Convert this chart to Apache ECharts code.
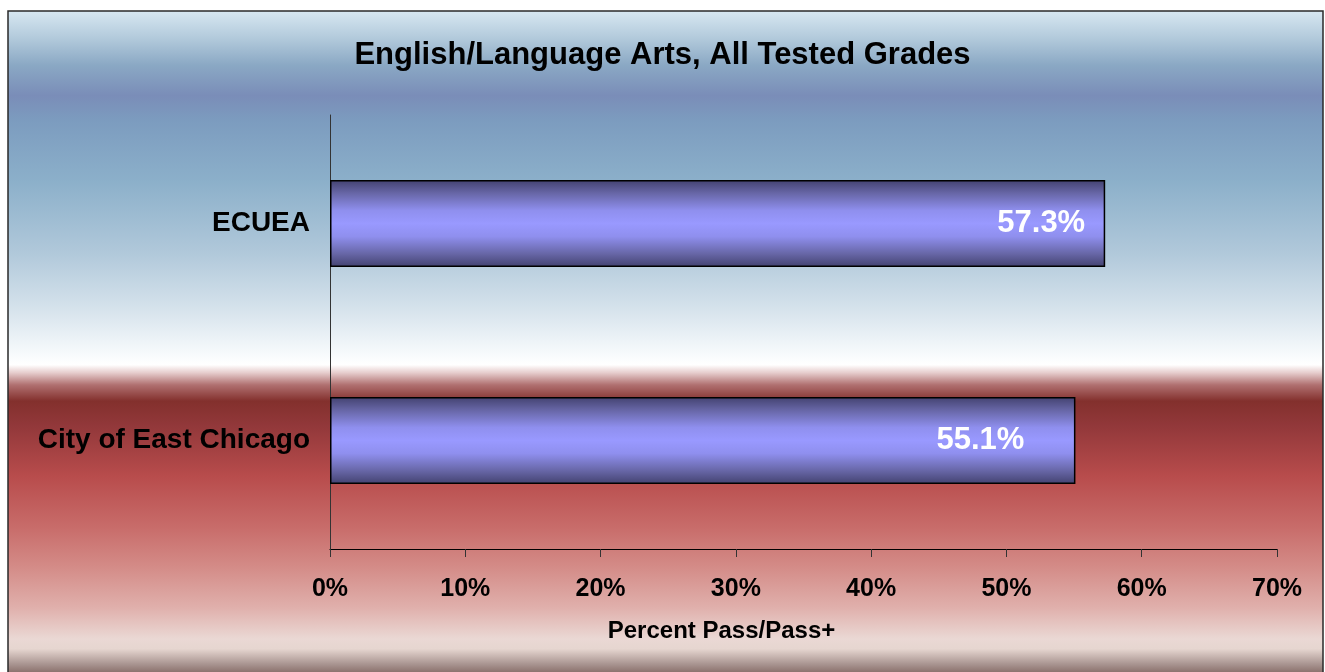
<!DOCTYPE html>
<html>
<head>
<meta charset="utf-8">
<script src="https://cdn.jsdelivr.net/npm/echarts@6/dist/echarts.min.js"></script>
<style>
  html, body { margin: 0; padding: 0; background: #fff; }
  #chart { width: 1325px; height: 672px; }
</style>
</head>
<body>
<div id="chart"></div>
<script>
  // data (first category is drawn at the bottom)
  var categories = ['City of East Chicago', 'ECUEA'];
  var passRates = [55.1, 57.3];
  var tickValues = [0, 10, 20, 30, 40, 50, 60, 70];

  // label inset from bar end, per bar (style only)
  var labelInset = [51, 20];

  var font = '"Liberation Sans", Arial, sans-serif';
  var myChart = echarts.init(document.getElementById('chart'));

  var barFill = new echarts.graphic.LinearGradient(0, 0, 0, 1, [
    {offset: 0, color: '#434270'},
    {offset: 0.15, color: '#6766a6'},
    {offset: 0.35, color: '#8f8fee'},
    {offset: 0.5, color: '#9999ff'},
    {offset: 0.65, color: '#8f8fee'},
    {offset: 0.85, color: '#6766a6'},
    {offset: 1, color: '#434270'}
  ]);

  var bgFill = new echarts.graphic.LinearGradient(0, 0, 0, 1, [
    {offset: 0, color: '#d8e8f2'},
    {offset: 0.044, color: '#b0c8da'},
    {offset: 0.082, color: '#8aa8c4'},
    {offset: 0.127, color: '#7a8db8'},
    {offset: 0.165, color: '#7c9cbf'},
    {offset: 0.256, color: '#8cb0ca'},
    {offset: 0.36, color: '#b0c8da'},
    {offset: 0.437, color: '#d2e0ea'},
    {offset: 0.52, color: '#fbfdfe'},
    {offset: 0.528, color: '#ffffff'},
    {offset: 0.54, color: '#e6cccc'},
    {offset: 0.558, color: '#b07070'},
    {offset: 0.582, color: '#83302d'},
    {offset: 0.619, color: '#92383a'},
    {offset: 0.694, color: '#b84c4c'},
    {offset: 0.77, color: '#c86c6a'},
    {offset: 0.83, color: '#d48c88'},
    {offset: 0.89, color: '#e0b0ac'},
    {offset: 0.936, color: '#ead8d4'},
    {offset: 0.951, color: '#e6d6d0'},
    {offset: 0.974, color: '#a89490'},
    {offset: 1, color: '#6a4a45'}
  ]);

  var option = {
    animation: false,
    backgroundColor: '#ffffff',
    graphic: {
      elements: [{
        type: 'rect',
        z: -10,
        silent: true,
        shape: {x: 8, y: 11, width: 1315, height: 670},
        style: {fill: bgFill, stroke: '#2a2a2a', lineWidth: 1.5}
      }]
    },
    title: {
      text: 'English/Language Arts, All Tested Grades',
      left: 'center',
      top: 35,
      textStyle: {fontFamily: font, fontSize: 31, fontWeight: 'bold', color: '#000'}
    },
    grid: {left: 330, right: 48, top: 115, bottom: 123, containLabel: false},
    xAxis: {
      type: 'value',
      min: 0,
      max: 70,
      interval: 10,
      name: 'Percent Pass/Pass+',
      nameLocation: 'middle',
      nameGap: 70,
      nameTextStyle: {fontFamily: font, fontSize: 24, fontWeight: 'bold', color: '#000', padding: [0, 164, 0, 0]},
      axisLine: {show: true, lineStyle: {color: '#000', width: 1.2}},
      axisTick: {show: true, length: 8, inside: false, lineStyle: {color: '#333'}},
      splitLine: {show: false},
      axisLabel: {
        margin: 28,
        fontFamily: font, fontSize: 25, fontWeight: 'bold', color: '#000',
        formatter: function (v) { return tickValues.indexOf(v) >= 0 ? v + '%' : ''; }
      }
    },
    yAxis: {
      type: 'category',
      data: categories,
      axisLine: {show: true, lineStyle: {color: '#333', width: 1}},
      axisTick: {show: false},
      axisLabel: {margin: 20, fontFamily: font, fontSize: 28, fontWeight: 'bold', color: '#000'}
    },
    series: [{
      type: 'bar',
      barWidth: '40%',
      data: passRates.map(function (v, i) {
        return {
          value: v,
          label: {distance: labelInset[i]}
        };
      }),
      itemStyle: {color: barFill, borderColor: '#000', borderWidth: 1.5},
      label: {
        show: true,
        position: 'insideRight',
        formatter: function (p) { return p.value.toFixed(1) + '%'; },
        fontFamily: font, fontSize: 31, fontWeight: 'bold', color: '#fff'
      }
    }]
  };

  myChart.setOption(option);
</script>
</body>
</html>
